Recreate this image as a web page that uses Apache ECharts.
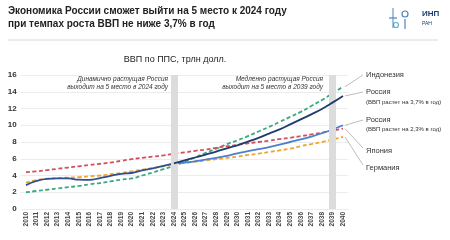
<!DOCTYPE html>
<html><head><meta charset="utf-8">
<script src="https://cdn.jsdelivr.net/npm/echarts@6/dist/echarts.min.js"></script>
<style>html,body{margin:0;padding:0;background:#fff}#c{width:450px;height:240px}</style>
</head><body><div id="c"></div>
<script>
const years = ['2010','2011','2012','2013','2014','2015','2016','2017','2018','2019','2020','2021','2022','2023','2024','2025','2026','2027','2028','2029','2030','2031','2032','2033','2034','2035','2036','2037','2038','2039','2040'];
const yTicks = [0,2,4,6,8,10,12,14,16];
const indonesia = [2.0,2.15,2.3,2.45,2.6,2.75,2.95,3.1,3.3,3.5,3.65,4.0,4.35,4.75,5.15,5.65,6.15,6.7,7.2,7.75,8.2,8.7,9.25,9.8,10.4,11.0,11.6,12.3,13.0,13.8,14.6];
const japan = [4.4,4.5,4.65,4.8,4.95,5.1,5.25,5.4,5.55,5.75,5.95,6.1,6.25,6.4,6.6,6.75,6.95,7.1,7.3,7.5,7.65,7.85,8.0,8.15,8.35,8.5,8.7,8.9,9.1,9.35,9.6];
const germany = [3.14,3.45,3.62,3.7,3.75,3.8,3.9,4.0,4.15,4.3,4.5,4.7,4.9,5.1,5.35,5.5,5.65,5.8,5.95,6.1,6.25,6.45,6.6,6.8,7.0,7.2,7.5,7.75,8.0,8.3,8.6];
const russiaHist = [2.85,3.35,3.6,3.65,3.65,3.5,3.48,3.7,3.95,4.2,4.3,4.6,4.85,5.15,5.45];
const russia37 = [5.45,5.8,6.15,6.5,6.85,7.25,7.6,8.05,8.5,9.0,9.5,10.1,10.7,11.3,11.95,12.7,13.5];
const russia23 = [5.45,5.55,5.7,5.9,6.1,6.35,6.65,6.9,7.15,7.4,7.7,8.0,8.3,8.65,9.05,9.5,10.0];
const bandYears = ['2024','2039'];

const pad = (arr, before) => Array(before).fill(null).concat(arr).concat(Array(years.length - before - arr.length).fill(null));
const F = 'Liberation Sans, Arial, sans-serif';
const chart = echarts.init(document.getElementById('c'));
const dash = (name, data, color) => ({name, type:'line', data, symbol:'none', smooth:true, z:3,
  lineStyle:{color, width:1.8, type:[4,2.5]}});
const solid = (name, data, color, z) => ({name, type:'line', data, symbol:'none', smooth:true, z,
  lineStyle:{color, width:1.8}});
chart.setOption({
  animation:false,
  grid:{left:20.7, right:101.7, top:75, bottom:31},
  xAxis:{type:'category', data:years, boundaryGap:true,
    axisLine:{show:false}, axisTick:{show:false},
    axisLabel:{rotate:90, fontSize:6.5, color:'#444', fontFamily:F, fontWeight:'bold', margin:3, interval:0}},
  yAxis:{type:'value', min:yTicks[0], max:yTicks[yTicks.length-1], interval:2,
    axisLabel:{fontSize:8, color:'#333', fontFamily:F, fontWeight:'bold', margin:4},
    splitLine:{lineStyle:{color:'#ececec', width:1}}},
  series:[
    {type:'line', data:[], markLine:{silent:true, symbol:'none', label:{show:false},
      lineStyle:{color:'#dcdcdc', width:7, type:'solid'}, data:bandYears.map(y=>({xAxis:y}))}, z:1},
    dash('Индонезия', indonesia, '#3aaa7c'),
    dash('Япония', japan, '#d2505c'),
    dash('Германия', germany, '#eea630'),
    solid('Россия hist', pad(russiaHist,0), '#2f4f90', 4),
    solid('Россия 2.3', pad(russia23,14), '#4a80cc', 4),
    solid('Россия 3.7', pad(russia37,14), '#1f3c6c', 5)
  ]
});
const last = years.length-1;
const endPx = v => chart.convertToPixel({gridIndex:0}, [last, v]);
const labels = [
  {v: indonesia[last], ly:75, lines:[['Индонезия',75,7.5]]},
  {v: russia37[russia37.length-1], ly:92, lines:[['Россия',92,7.5],['(ВВП растет на 3,7% в год)',102,6]]},
  {v: russia23[russia23.length-1], ly:120, lines:[['Россия',120,7.5],['(ВВП растет на 2,3% в год)',129,6]]},
  {v: japan[last], ly:148, lines:[['Япония',151,7.5]]},
  {v: germany[last], ly:165, lines:[['Германия',168,7.5]]}
];
const g = [];
labels.forEach(l => {
  const p = endPx(l.v);
  g.push({type:'line', shape:{x1:p[0]+2, y1:p[1], x2:363, y2:l.ly}, style:{stroke:'#bdbdbd', lineWidth:1}});
  l.lines.forEach(t => g.push({type:'text', x:366, y:t[1], style:{text:t[0], font:t[2]+'px '+F, fill:'#333', textVerticalAlign:'middle'}}));
});
// header
g.push({type:'text', x:8, y:11, style:{text:'Экономика России сможет выйти на 5 место к 2024 году', font:'bold 10px '+F, fill:'#222', textVerticalAlign:'middle'}});
g.push({type:'text', x:8, y:24, style:{text:'при темпах роста ВВП не ниже 3,7% в год', font:'bold 10px '+F, fill:'#222', textVerticalAlign:'middle'}});
g.push({type:'line', shape:{x1:8, y1:40, x2:438, y2:40}, style:{stroke:'#d8d8d8', lineWidth:1}});
g.push({type:'text', x:175, y:60, style:{text:'ВВП по ППС, трлн долл.', font:'9px '+F, fill:'#222', textAlign:'center', textVerticalAlign:'middle'}});
// annotations
g.push({type:'text', x:168, y:79, style:{text:'Динамично растущая Россия', font:'italic 6.5px '+F, fill:'#333', textAlign:'right', textVerticalAlign:'middle'}});
g.push({type:'text', x:168, y:87, style:{text:'выходит на 5 место в 2024 году', font:'italic 6.5px '+F, fill:'#333', textAlign:'right', textVerticalAlign:'middle'}});
g.push({type:'text', x:323, y:79, style:{text:'Медленно растущая Россия', font:'italic 6.5px '+F, fill:'#333', textAlign:'right', textVerticalAlign:'middle'}});
g.push({type:'text', x:323, y:87, style:{text:'выходит на 5 место в 2039 году', font:'italic 6.5px '+F, fill:'#333', textAlign:'right', textVerticalAlign:'middle'}});
// logo
g.push({type:'circle', shape:{cx:405, cy:14, r:3}, style:{fill:'none', stroke:'#4a86c0', lineWidth:1.2}});
g.push({type:'circle', shape:{cx:396, cy:25, r:2.5}, style:{fill:'none', stroke:'#5fb0c8', lineWidth:1.2}});
g.push({type:'line', shape:{x1:389, y1:18, x2:397, y2:18}, style:{stroke:'#4a86c0', lineWidth:1.2}});
g.push({type:'line', shape:{x1:393, y1:8, x2:393, y2:28}, style:{stroke:'#4a86c0', lineWidth:1}});
g.push({type:'line', shape:{x1:405, y1:19, x2:405, y2:29}, style:{stroke:'#4a86c0', lineWidth:1.2}});
g.push({type:'text', x:422, y:14, style:{text:'ИНП', font:'bold 8px '+F, fill:'#1f3c6c', textVerticalAlign:'middle'}});
g.push({type:'text', x:422, y:24, style:{text:'РАН', font:'5px '+F, fill:'#1f3c6c', textVerticalAlign:'middle'}});
chart.setOption({graphic:g});
</script></body></html>
